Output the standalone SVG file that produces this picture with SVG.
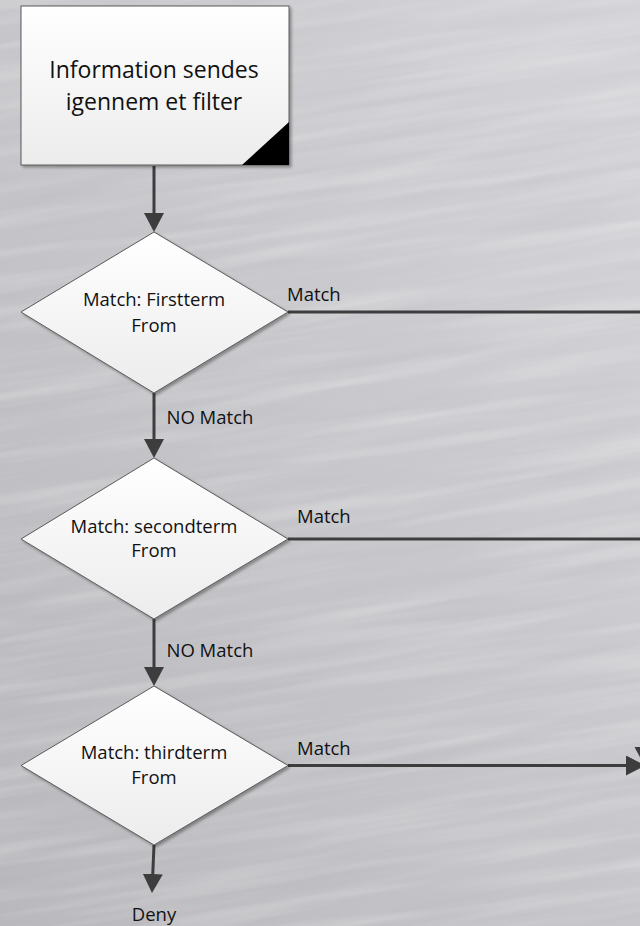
<svg xmlns="http://www.w3.org/2000/svg" width="640" height="926" viewBox="0 0 640 926">
  <defs>
    <linearGradient id="bg" x1="0" y1="1" x2="1" y2="0">
      <stop offset="0" stop-color="#b9b9bd"/>
      <stop offset="0.45" stop-color="#c6c6ca"/>
      <stop offset="1" stop-color="#d6d6da"/>
    </linearGradient>
    <linearGradient id="shapeFill" x1="0" y1="0" x2="0" y2="1">
      <stop offset="0" stop-color="#ffffff"/>
      <stop offset="1" stop-color="#ececec"/>
    </linearGradient>
    <filter id="brush" x="0" y="0" width="100%" height="100%">
      <feTurbulence type="fractalNoise" baseFrequency="0.004 0.07" numOctaves="3" seed="7"/>
      <feColorMatrix type="matrix" values="0 0 0 0 1  0 0 0 0 1  0 0 0 0 1  0.9 0 0 0 -0.38"/>
    </filter>
    <filter id="brushDark" x="0" y="0" width="100%" height="100%">
      <feTurbulence type="fractalNoise" baseFrequency="0.006 0.09" numOctaves="2" seed="19"/>
      <feColorMatrix type="matrix" values="0 0 0 0 0.35  0 0 0 0 0.35  0 0 0 0 0.38  0.7 0 0 0 -0.33"/>
    </filter>
    <filter id="shadow" x="-10%" y="-10%" width="120%" height="120%">
      <feGaussianBlur in="SourceAlpha" stdDeviation="1.5"/>
      <feOffset dx="1.5" dy="2" result="b"/>
      <feComponentTransfer><feFuncA type="linear" slope="0.35"/></feComponentTransfer>
      <feMerge><feMergeNode/><feMergeNode in="SourceGraphic"/></feMerge>
    </filter>
    <marker id="arrow" viewBox="0 0 19 20" refX="9" refY="10" markerWidth="19" markerHeight="20" markerUnits="userSpaceOnUse" orient="auto">
      <path d="M0,0 L19,10 L0,20 z" fill="#3d3d3d"/>
    </marker>
    <style>
      .node { fill: url(#shapeFill); stroke: #5a5a5a; stroke-width: 1; }
      .conn { fill: none; stroke: #3d3d3d; stroke-width: 3; }
      .t { font-family: "Open Sans", "Noto Sans", sans-serif; fill: #111111; }
      .big { font-size: 23px; }
      .mid { font-size: 18.5px; }
    </style>
  </defs>

  <!-- background -->
  <rect x="0" y="0" width="640" height="926" fill="url(#bg)"/>
  <g transform="rotate(-9 320 463)" opacity="0.55">
    <rect x="-250" y="-250" width="1140" height="1426" filter="url(#brush)"/>
  </g>
  <g transform="rotate(-9 320 463)" opacity="0.35">
    <rect x="-250" y="-250" width="1140" height="1426" filter="url(#brushDark)"/>
  </g>

  <!-- connectors -->
  <g id="connectors">
    <line class="conn" x1="154" y1="166" x2="154" y2="222" marker-end="url(#arrow)"/>
    <line class="conn" x1="288" y1="312" x2="642" y2="312"/>
    <line class="conn" x1="154" y1="393" x2="154" y2="448" marker-end="url(#arrow)"/>
    <line class="conn" x1="288" y1="539" x2="642" y2="539"/>
    <line class="conn" x1="154" y1="619" x2="154" y2="676" marker-end="url(#arrow)"/>
    <line class="conn" x1="288" y1="765.5" x2="635" y2="765.5" marker-end="url(#arrow)"/>
    <line class="conn" x1="154" y1="845" x2="152.4" y2="883" marker-end="url(#arrow)"/>
    <polygon points="634.5,747 641,747 641,759" fill="#3d3d3d"/>
    <text class="t mid" x="287" y="301">Match</text>
    <text class="t mid" x="297" y="523">Match</text>
    <text class="t mid" x="297" y="755">Match</text>
    <text class="t mid" x="166.5" y="424">NO Match</text>
    <text class="t mid" x="166.5" y="657">NO Match</text>
    <text class="t mid" x="154" y="921" text-anchor="middle">Deny</text>
  </g>

  <!-- nodes -->
  <g id="start">
    <rect class="node" x="21" y="6" width="268" height="159" filter="url(#shadow)"/>
    <polygon points="242,165 289,122 289,165" fill="#000000"/>
    <text class="t big" x="154" y="78" text-anchor="middle">Information sendes</text>
    <text class="t big" x="154" y="110" text-anchor="middle">igennem et filter</text>
  </g>

  <g id="decision1">
    <polygon class="node" points="154,232 288,312 154,393 21,312" filter="url(#shadow)"/>
    <text class="t mid" x="154" y="306" text-anchor="middle">Match: Firstterm</text>
    <text class="t mid" x="154" y="332" text-anchor="middle">From</text>
  </g>

  <g id="decision2">
    <polygon class="node" points="154,458 288,539 154,619 21,539" filter="url(#shadow)"/>
    <text class="t mid" x="154" y="533" text-anchor="middle">Match: secondterm</text>
    <text class="t mid" x="154" y="557" text-anchor="middle">From</text>
  </g>

  <g id="decision3">
    <polygon class="node" points="154,686 288,765.5 154,845 21,765.5" filter="url(#shadow)"/>
    <text class="t mid" x="154" y="759" text-anchor="middle">Match: thirdterm</text>
    <text class="t mid" x="154" y="784" text-anchor="middle">From</text>
  </g>
</svg>
